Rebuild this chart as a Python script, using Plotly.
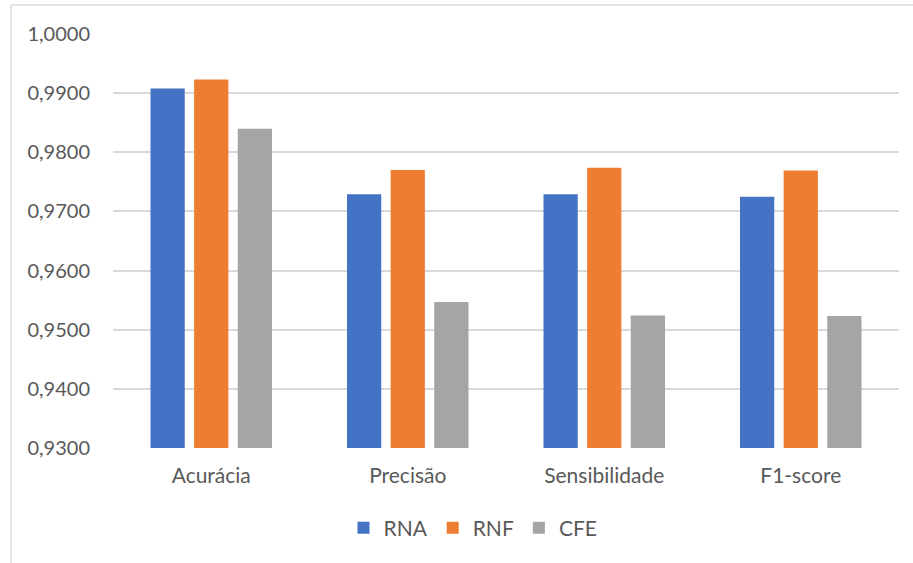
import plotly.graph_objects as go

# Metrics per model
categories = ["Acurácia", "Precisão", "Sensibilidade", "F1-score"]
rna = [0.9908, 0.9729, 0.9729, 0.9725]
rnf = [0.9923, 0.9770, 0.9774, 0.9769]
cfe = [0.9840, 0.9547, 0.9524, 0.9523]
y_ticks = [0.93, 0.94, 0.95, 0.96, 0.97, 0.98, 0.99, 1.00]

W, H = 913, 563
ML, MR, MT, MB = 113, 14, 34, 115
TXT = "#595959"
FONT = "Lato"

fig = go.Figure()
for name, vals, col in [("RNA", rna, "#4472C4"), ("RNF", rnf, "#ED7D31"), ("CFE", cfe, "#A5A5A5")]:
    fig.add_trace(go.Bar(name=name, x=categories, y=vals, marker=dict(color=col, line=dict(width=0))))

# pixel -> paper helpers for the outer frame
pw, ph = W - ML - MR, H - MT - MB
px = lambda x: (x - ML) / pw
py = lambda y: (H - MB - y) / ph

fig.update_layout(
    width=W, height=H,
    margin=dict(l=ML, r=MR, t=MT, b=MB),
    paper_bgcolor="white", plot_bgcolor="white",
    separators=",.",
    barmode="group", bargap=0.334, bargroupgap=0.215,
    font=dict(family=FONT, color=TXT, size=20),
    showlegend=True,
    legend=dict(orientation="h", x=px(473), y=py(528), xanchor="center", yanchor="middle",
                font=dict(family=FONT, color=TXT, size=21), itemwidth=30, tracegroupgap=0),
    shapes=[
        dict(type="line", xref="paper", yref="paper", x0=px(11), x1=px(913), y0=py(5), y1=py(5),
             line=dict(color="#D9D9D9", width=1.5)),
        dict(type="line", xref="paper", yref="paper", x0=px(11), x1=px(11), y0=py(5), y1=py(563),
             line=dict(color="#D9D9D9", width=1.5)),
    ],
)
fig.update_yaxes(range=[0.93, 1.0], tickvals=y_ticks, tickformat=".4f",
                 showgrid=True, gridcolor="#D9D9D9", gridwidth=1.5, zeroline=False,
                 showline=False, ticks="", ticklabelstandoff=22,
                 tickfont=dict(family=FONT, color=TXT, size=20))
fig.update_xaxes(showgrid=False, showline=False, ticks="", ticklabelstandoff=13,
                 tickfont=dict(family=FONT, color=TXT, size=21))

fig.write_html("out.html")
